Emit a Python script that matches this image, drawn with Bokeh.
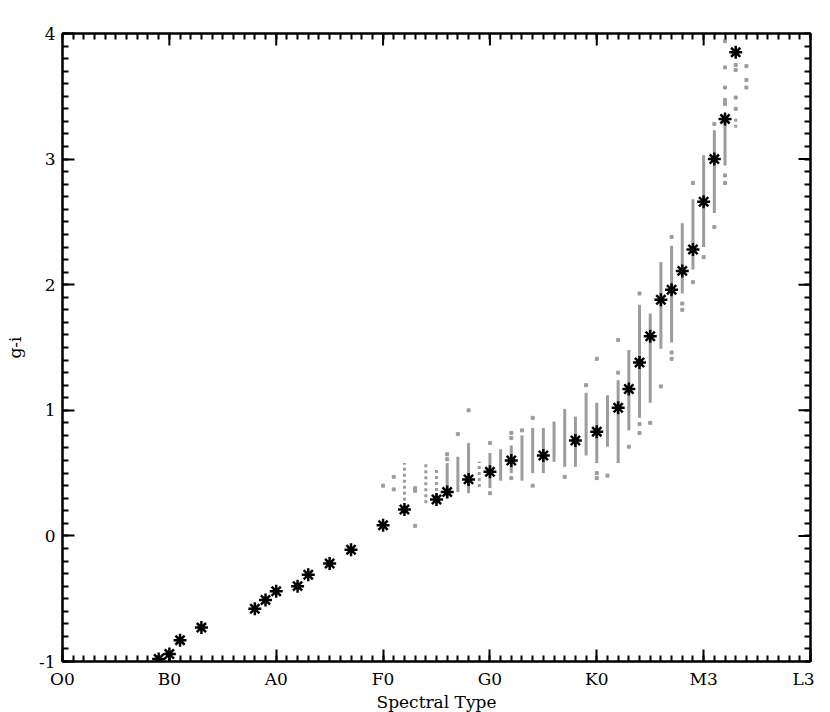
import numpy as np
from bokeh.plotting import figure
from bokeh.models import FixedTicker, LinearAxis, Range1d
from bokeh.embed import file_html
from bokeh.resources import INLINE

# ---- data ----
tick_values = [0, 10, 20, 30, 40, 50, 60, 70]
tick_labels = ["O0", "B0", "A0", "F0", "G0", "K0", "M3", "L3"]
y_tick_values = [-1, 0, 1, 2, 3, 4]
y_tick_labels = ["-1", "0", "1", "2", "3", "4"]

star_x = [9, 10, 11, 13, 18, 19, 20, 22, 23, 25, 27, 30, 32, 35, 36, 38, 40, 42,
          45, 48, 50, 52, 53, 54, 55, 56, 57, 58, 59, 60, 61, 62, 63]
star_y = [-0.98, -0.94, -0.83, -0.73, -0.58, -0.51, -0.44, -0.40, -0.31, -0.22, -0.11,
          0.085, 0.21, 0.29, 0.35, 0.45, 0.51, 0.60, 0.64, 0.76, 0.83, 1.02, 1.17,
          1.38, 1.59, 1.88, 1.96, 2.11, 2.28, 2.66, 3.00, 3.32, 3.85]

# dense gray columns (x, low, high)
dense_x = [36, 37, 38, 40, 41, 42, 43, 44, 45, 46, 47, 48, 49, 50, 51, 52, 53, 54,
           55, 56, 57, 58, 59, 60, 61, 62]
dense_lo = [0.30, 0.35, 0.34, 0.38, 0.44, 0.50, 0.44, 0.50, 0.50, 0.59, 0.55, 0.55,
            0.64, 0.58, 0.71, 0.58, 0.84, 0.94, 1.06, 1.49, 1.54, 1.93, 2.12, 2.30,
            2.57, 2.95]
dense_hi = [0.58, 0.63, 0.74, 0.66, 0.69, 0.72, 0.80, 0.86, 0.86, 0.91, 1.01, 0.95,
            1.14, 1.06, 1.12, 1.24, 1.48, 1.84, 1.77, 2.18, 2.31, 2.49, 2.68, 3.03,
            3.23, 3.34]

# sparse (dotted) gray columns
sparse_x = [32, 34, 35, 39, 63]
sparse_lo = [0.28, 0.26, 0.31, 0.39, 3.25]
sparse_hi = [0.58, 0.58, 0.54, 0.59, 3.34]

# isolated gray points
dot_x = [30, 31, 31, 33, 33, 33, 36, 36, 37, 38, 40, 40, 42, 42, 42, 43, 44, 44,
         47, 49, 50, 50, 50, 51, 52, 52, 53, 54, 54, 54, 55, 56, 57, 57, 57, 58, 58,
         59, 59, 60, 61, 61, 62, 62, 62, 62, 62, 62, 62, 63, 63, 63, 63, 64, 64, 64]
dot_y = [0.40, 0.47, 0.37, 0.38, 0.36, 0.08, 0.65, 0.61, 0.81, 1.00, 0.74, 0.34,
         0.82, 0.78, 0.46, 0.84, 0.94, 0.40, 0.47, 1.20, 0.50, 0.46, 1.41, 0.48,
         1.56, 1.30, 0.71, 1.93, 0.89, 0.82, 0.90, 1.19, 2.38, 1.46, 1.41, 1.85, 1.80,
         2.81, 2.02, 2.22, 3.28, 2.46, 3.94, 3.73, 3.57, 3.47, 3.44, 2.87, 2.81,
         3.75, 3.71, 3.49, 3.40, 3.74, 3.63, 3.57]

# ---- figure ----
FONT = "DejaVu Serif"
GRAY = "#9c9c9c"
X0, X1, Y0, Y1 = 0, 70, -1, 4

p = figure(frame_width=748, frame_height=628, output_backend="svg",
           toolbar_location=None,
           x_range=Range1d(X0, X1), y_range=Range1d(Y0, Y1),
           min_border_left=62, min_border_right=4, min_border_top=33,
           min_border_bottom=43, x_axis_location=None, y_axis_location=None)
p.grid.visible = False
p.outline_line_color = "black"
p.outline_line_width = 2
p.background_fill_color = "white"
p.border_fill_color = "white"

x_minor = list(range(X0, X1 + 1))
y_minor = [round(v, 2) for v in np.arange(Y0, Y1 + 0.001, 0.1)]
xt = FixedTicker(ticks=tick_values, minor_ticks=x_minor)
yt = FixedTicker(ticks=y_tick_values, minor_ticks=y_minor)
xt_mirror = FixedTicker(ticks=[], minor_ticks=x_minor)
yt_mirror = FixedTicker(ticks=[], minor_ticks=y_minor)


def style(ax):
    ax.axis_line_width = 2
    ax.axis_line_color = "black"
    ax.major_tick_in = 12
    ax.major_tick_out = 0
    ax.minor_tick_in = 6
    ax.minor_tick_out = 0
    ax.major_tick_line_width = 2
    ax.minor_tick_line_width = 2
    ax.major_label_text_font = FONT
    ax.major_label_text_font_size = "17px"
    ax.major_label_text_color = "black"
    ax.axis_label_text_font = FONT
    ax.axis_label_text_font_style = "normal"
    ax.axis_label_text_font_size = "17px"
    ax.axis_label_text_color = "black"


xb = LinearAxis(ticker=xt, axis_label="Spectral Type",
                major_label_overrides={v: l for v, l in zip(tick_values, tick_labels)})
style(xb)
xb.major_label_standoff = 7
xb.axis_label_standoff = 0
p.add_layout(xb, "below")

yl = LinearAxis(ticker=yt, axis_label="g-i",
                major_label_overrides={v: l for v, l in zip(y_tick_values, y_tick_labels)})
style(yl)
yl.major_label_standoff = 7
yl.axis_label_standoff = 11
p.add_layout(yl, "left")

# mirror axes: minor ticks only (no labels)
xa = LinearAxis(ticker=xt_mirror)
style(xa)
xa.major_label_standoff = 0
p.add_layout(xa, "above")
yr = LinearAxis(ticker=yt_mirror)
style(yr)
yr.major_label_standoff = 0
p.add_layout(yr, "right")

# mirror major ticks (clipped to the frame, so only the inner half shows)
p.scatter(x=tick_values[1:-1], y=[Y1] * (len(tick_values) - 2), marker="dash",
          angle=np.pi / 2, size=24, line_color="black", line_width=2)
p.scatter(x=[X1] * (len(y_tick_values) - 2), y=y_tick_values[1:-1], marker="dash",
          size=24, line_color="black", line_width=2)

p.segment(x0=dense_x, y0=dense_lo, x1=dense_x, y1=dense_hi,
          line_color=GRAY, line_width=3)
p.segment(x0=sparse_x, y0=sparse_lo, x1=sparse_x, y1=sparse_hi,
          line_color=GRAY, line_width=3, line_dash="3 3")
p.scatter(x=dot_x, y=dot_y, marker="square", size=3, fill_color=GRAY,
          line_color=GRAY)
p.scatter(x=star_x, y=star_y, marker="asterisk", size=13, line_color="black",
          line_width=2.5)

open("out.html", "w").write(file_html(p, INLINE))
